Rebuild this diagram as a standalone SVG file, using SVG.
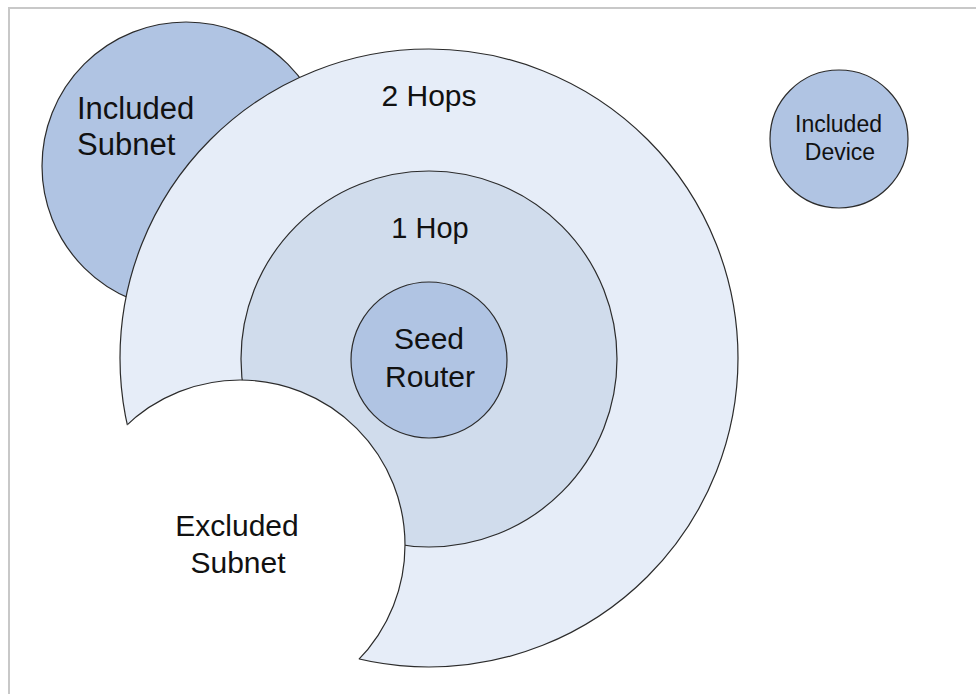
<svg xmlns="http://www.w3.org/2000/svg" width="976" height="694" viewBox="0 0 976 694">
  <style>
    .lbl { font-family: "Liberation Sans", Arial, sans-serif; fill: #111; }
    .ring { stroke: #2b2b2b; stroke-width: 1.2; }
    .mid { fill: #b0c4e3; }
  </style>
  <defs>
    <clipPath id="outerClip">
      <circle cx="429" cy="358" r="309"/>
    </clipPath>
  </defs>
  <rect x="0" y="0" width="976" height="694" fill="#ffffff"/>
  <rect x="9" y="8" width="980" height="700" fill="none" stroke="#c8c8c8" stroke-width="2"/>

  <g id="included-subnet">
    <circle class="ring mid" cx="186" cy="166" r="144"/>
    <text class="lbl" x="77" y="119" font-size="31">Included</text>
    <text class="lbl" x="77" y="155" font-size="31">Subnet</text>
  </g>

  <g id="two-hops">
    <circle class="ring" cx="429" cy="358" r="309" fill="#e6edf8"/>
    <text class="lbl" x="429" y="106" font-size="30" text-anchor="middle">2 Hops</text>
  </g>

  <g id="one-hop">
    <circle class="ring" cx="429" cy="359" r="188" fill="#d0dcec"/>
    <text class="lbl" x="430" y="238" font-size="29" text-anchor="middle">1 Hop</text>
  </g>

  <g id="seed-router">
    <circle class="ring mid" cx="429" cy="360" r="78"/>
    <text class="lbl" x="429" y="349" font-size="30" text-anchor="middle">Seed</text>
    <text class="lbl" x="430" y="387" font-size="30" text-anchor="middle">Router</text>
  </g>

  <g id="excluded-subnet">
    <circle cx="240" cy="545" r="165" fill="#ffffff"/>
    <circle class="ring" cx="240" cy="545" r="165" fill="none" clip-path="url(#outerClip)"/>
    <text class="lbl" x="237" y="536" font-size="30" text-anchor="middle">Excluded</text>
    <text class="lbl" x="238" y="573" font-size="30" text-anchor="middle">Subnet</text>
  </g>

  <g id="included-device">
    <circle class="ring mid" cx="839" cy="139" r="69"/>
    <text class="lbl" x="838.5" y="132" font-size="23" text-anchor="middle">Included</text>
    <text class="lbl" x="840" y="160" font-size="23" text-anchor="middle">Device</text>
  </g>
</svg>
